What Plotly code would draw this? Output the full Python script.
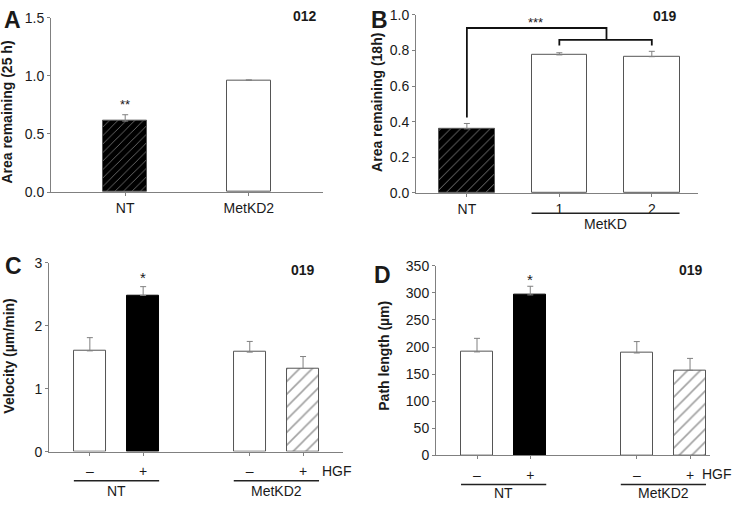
import plotly.graph_objects as go

# ---------------- data ----------------
a_cats = ["NT", "MetKD2"]
a_vals = [0.61, 0.96]
a_err = [0.055, 0.005]

b_cats = ["NT", "1", "2"]
b_vals = [0.36, 0.775, 0.765]
b_err = [0.03, 0.012, 0.03]

cd_labels = ["–", "+", "–", "+"]
cd_groups = ["NT", "MetKD2"]
c_vals = [1.60, 2.48, 1.58, 1.32]
c_err = [0.21, 0.14, 0.17, 0.19]
d_vals = [191, 296, 189, 157]
d_err = [25, 16, 21, 22]

a_pos = [0, 1]
b_pos = [0, 1, 2]
cd_pos = [0, 1, 3, 4]

FONT = "Liberation Sans, Arial, sans-serif"
TXT = "#1a1a1a"
AX = "#808080"
OUT = "#555555"

fig = go.Figure()


def err(arr):
    return dict(type="data", array=arr, arrayminus=[0] * len(arr), symmetric=False,
                color=AX, thickness=1, width=3)


# Panel A
fig.add_trace(go.Bar(
    x=a_pos, y=a_vals, width=0.355, error_y=err(a_err), xaxis="x", yaxis="y",
    marker=dict(color=["black", "white"], line=dict(color=OUT, width=1),
                pattern=dict(shape=["/", ""], fgcolor=["white", "white"], bgcolor=["black", "white"],
                             size=6, solidity=0.13)),
))
# Panel B
fig.add_trace(go.Bar(
    x=b_pos, y=b_vals, width=0.6, error_y=err(b_err), xaxis="x2", yaxis="y2",
    marker=dict(color=["black", "white", "white"], line=dict(color=OUT, width=1),
                pattern=dict(shape=["/", "", ""], fgcolor=["white"] * 3, bgcolor=["black", "white", "white"],
                             size=7, solidity=0.13)),
))
# Panel C
cd_colors = ["white", "black", "white", "white"]
cd_lines = [OUT, "black", OUT, OUT]
cd_pattern = dict(shape=["", "", "", "/"], fgcolor=["black"] * 4, bgcolor=["white"] * 4, size=9, solidity=0.18)
fig.add_trace(go.Bar(
    x=cd_pos, y=c_vals, width=0.6, error_y=err(c_err), xaxis="x3", yaxis="y3",
    marker=dict(color=cd_colors, line=dict(color=cd_lines, width=1), pattern=cd_pattern),
))
# Panel D
fig.add_trace(go.Bar(
    x=cd_pos, y=d_vals, width=0.6, error_y=err(d_err), xaxis="x4", yaxis="y4",
    marker=dict(color=cd_colors, line=dict(color=cd_lines, width=1), pattern=cd_pattern),
))

axcommon = dict(showline=True, linecolor=AX, linewidth=1, ticks="outside", ticklen=3,
                tickcolor=AX, showgrid=False, zeroline=False,
                tickfont=dict(family=FONT, size=14, color=TXT))

fig.update_layout(
    width=735, height=509, margin=dict(l=0, r=0, t=0, b=0),
    paper_bgcolor="white", plot_bgcolor="white", showlegend=False, bargap=0,
    xaxis=dict(domain=[0.0694, 0.4395], range=[-0.6, 1.6], anchor="y",
               tickvals=a_pos, ticktext=a_cats, **axcommon),
    yaxis=dict(domain=[0.6267, 0.9804], range=[0, 1.5], anchor="x",
               tickvals=[0, 0.5, 1.0, 1.5], tickformat=".1f", **axcommon),
    xaxis2=dict(domain=[0.5660, 0.9497], range=[-0.55, 2.5], anchor="y2",
                tickvals=b_pos, ticktext=b_cats, **axcommon),
    yaxis2=dict(domain=[0.6248, 0.9862], range=[0, 1.0], anchor="x2",
                tickvals=[0, 0.2, 0.4, 0.6, 0.8, 1.0], tickformat=".1f", **axcommon),
    xaxis3=dict(domain=[0.0667, 0.4667], range=[-0.766, 4.75], anchor="y3",
                tickvals=cd_pos, ticktext=cd_labels, ticklabelstandoff=4, **axcommon),
    yaxis3=dict(domain=[0.1002, 0.4833], range=[0, 3], anchor="x3",
                tickvals=[0, 1, 2, 3], **axcommon),
    xaxis4=dict(domain=[0.5932, 0.9660], range=[-0.77, 4.375], anchor="y4",
                tickvals=cd_pos, ticktext=cd_labels, ticklabelstandoff=4, **axcommon),
    yaxis4=dict(domain=[0.0923, 0.4774], range=[0, 350], anchor="x4",
                tickvals=list(range(0, 351, 50)), **axcommon),
)

ann = []


def txt(text, x, y, xref="paper", yref="paper", size=14, bold=False, angle=0, xanchor="center", yanchor="middle"):
    ann.append(dict(text=f"<b>{text}</b>" if bold else text, x=x, y=y, xref=xref, yref=yref,
                    showarrow=False, textangle=angle, xanchor=xanchor, yanchor=yanchor,
                    font=dict(family=FONT, size=size, color=TXT)))


# y titles
txt("Area remaining (25 h)", 7 / 735, 1 - 108 / 509, size=14, bold=True, angle=-90)
txt("Area remaining (18h)", 377 / 735, 1 - 98 / 509, size=14, bold=True, angle=-90)
txt("Velocity (µm/min)", 9 / 735, 1 - 360 / 509, size=14, bold=True, angle=-90)
txt("Path length (µm)", 384 / 735, 1 - 359 / 509, size=14, bold=True, angle=-90)
# panel letters
txt("A", 12 / 735, 1 - 12 / 509, size=23, bold=True)
txt("B", 379 / 735, 1 - 12 / 509, size=23, bold=True)
txt("C", 13 / 735, 1 - 266 / 509, size=23, bold=True)
txt("D", 382 / 735, 1 - 276 / 509, size=23, bold=True)
# dataset ids
txt("012", 305 / 735, 1 - 8 / 509, size=14, bold=True)
txt("019", 665 / 735, 1 - 8 / 509, size=14, bold=True)
txt("019", 303 / 735, 1 - 270 / 509, size=14, bold=True)
txt("019", 691 / 735, 1 - 270 / 509, size=14, bold=True)
# significance
txt("**", 0, 0.75, xref="x", yref="y", size=13)
txt("***", 0.745, 0.955, xref="x2", yref="y2", size=13)
txt("*", 1, 2.77, xref="x3", yref="y3", size=15)
txt("*", 1, 325, xref="x4", yref="y4", size=15)
# group labels
txt("MetKD", 1.5, 1 - 223 / 509, xref="x2", size=14)
txt("HGF", 320 / 735, 1 - 478 / 509, size=14, xanchor="left")
txt("HGF", 734 / 735, 1 - 481 / 509, size=14, xanchor="right")
txt(cd_groups[0], 0.5, 1 - 499 / 509, xref="x3", size=14)
txt(cd_groups[1], 3.5, 1 - 499 / 509, xref="x3", size=14)
txt(cd_groups[0], 0.5, 1 - 501 / 509, xref="x4", size=14)
txt(cd_groups[1], 3.5, 1 - 501 / 509, xref="x4", size=14)

shapes = []
LN = dict(color="#222", width=1.5)
# underlines
shapes.append(dict(type="line", xref="x2", yref="paper", x0=0.7, x1=2.3, y0=1 - 212 / 509, y1=1 - 212 / 509, line=LN))
for xr, yy in (("x3", 488), ("x4", 492)):
    shapes.append(dict(type="line", xref=xr, yref="paper", x0=-0.3, x1=1.3, y0=1 - yy / 509, y1=1 - yy / 509, line=LN))
    shapes.append(dict(type="line", xref=xr, yref="paper", x0=2.7, x1=4.3, y0=1 - yy / 509, y1=1 - yy / 509, line=LN))
# bracket in B
BR = dict(color="#111", width=1.8)
shapes.append(dict(type="path", xref="x2", yref="y2", path="M 0,0.423 L 0,0.926 L 1.51,0.926 L 1.51,0.859", line=BR))
shapes.append(dict(type="path", xref="x2", yref="y2", path="M 1,0.827 L 1,0.859 L 2,0.859 L 2,0.827", line=BR))

fig.update_layout(annotations=ann, shapes=shapes)
fig.write_html("out.html", config={"displayModeBar": False},
               post_script="document.body.style.margin='0';document.body.style.overflow='hidden';")
